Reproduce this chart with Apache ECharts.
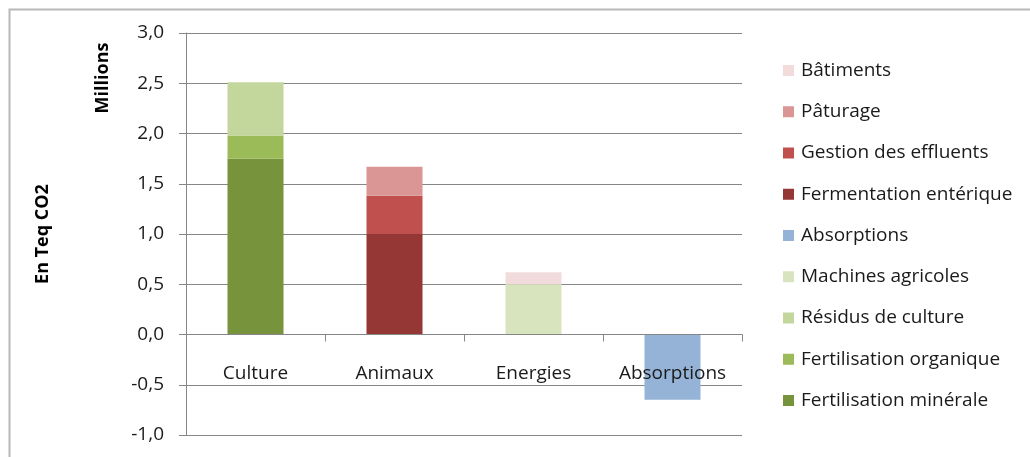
<!DOCTYPE html>
<html>
<head>
<meta charset="utf-8">
<script src="https://cdn.jsdelivr.net/npm/echarts@6/dist/echarts.min.js"></script>
<style>
html,body{margin:0;padding:0;background:#fff;}
#c{width:1030px;height:457px;}
</style>
</head>
<body>
<div id="c"></div>
<script>
const categories = ['Culture', 'Animaux', 'Energies', 'Absorptions'];
const fertilisationMinerale = [1.75, null, null, null];
const fertilisationOrganique = [0.23, null, null, null];
const residusCulture = [0.53, null, null, null];
const machinesAgricoles = [null, null, 0.50, null];
const absorptions = [null, null, null, -0.65];
const fermentationEnterique = [null, 1.00, null, null];
const gestionEffluents = [null, 0.38, null, null];
const paturage = [null, 0.29, null, null];
const batiments = [null, null, 0.12, null];
const yTicks = [-1, 3, 0.5]; // min, max, interval

const seriesDefs = [
  ['Fertilisation minérale', fertilisationMinerale, '#77933C'],
  ['Fertilisation organique', fertilisationOrganique, '#9BBB59'],
  ['Résidus de culture', residusCulture, '#C3D69B'],
  ['Machines agricoles', machinesAgricoles, '#D7E4BD'],
  ['Absorptions', absorptions, '#95B3D7'],
  ['Fermentation entérique', fermentationEnterique, '#953735'],
  ['Gestion des effluents', gestionEffluents, '#C0504D'],
  ['Pâturage', paturage, '#D99694'],
  ['Bâtiments', batiments, '#F2DCDB']
];

const FONT = '"Open Sans", Lato, sans-serif';
const FS = 19;
const GRID_TOP = 33, GRID_BOTTOM = 22, H = 457;
const plotH = H - GRID_TOP - GRID_BOTTOM;
// shift x axis (with its labels) up to the zero line
const zeroOffset = -plotH * (0 - yTicks[0]) / (yTicks[1] - yTicks[0]);

const chart = echarts.init(document.getElementById('c'), null, {renderer: 'canvas'});
chart.setOption({
  animation: false,
  backgroundColor: '#fff',
  grid: {left: 186, right: 288, top: GRID_TOP, bottom: GRID_BOTTOM, containLabel: false, outerBoundsMode: 'none'},
  legend: {
    orient: 'vertical',
    left: 778,
    top: 56,
    itemWidth: 11,
    itemHeight: 11,
    itemGap: 22.25,
    icon: 'rect',
    data: seriesDefs.map(s => s[0]).slice().reverse(),
    textStyle: {fontFamily: FONT, fontSize: FS, color: '#1a1a1a', padding: [0, 0, 0, 2]}
  },
  xAxis: {
    type: 'category',
    data: categories,
    offset: zeroOffset,
    z: 5,
    axisLine: {onZero: false, lineStyle: {color: '#868686', width: 1}},
    axisTick: {show: true, interval: 0, length: 7, lineStyle: {color: '#868686'}},
    axisLabel: {fontFamily: FONT, fontSize: FS, color: '#1a1a1a', margin: 30, interval: 0, hideOverlap: false},
    splitLine: {show: false}
  },
  yAxis: {
    type: 'value',
    min: yTicks[0], max: yTicks[1], interval: yTicks[2],
    axisLine: {show: true, lineStyle: {color: '#868686', width: 1}},
    axisTick: {show: true, length: 7, lineStyle: {color: '#868686'}},
    axisLabel: {fontFamily: FONT, fontSize: FS, color: '#1a1a1a', margin: 22,
      formatter: v => v.toFixed(1).replace('.', ',')},
    splitLine: {show: true, lineStyle: {color: '#868686', width: 1}}
  },
  graphic: [
    {type: 'rect', left: 7, top: 7, shape: {width: 1060, height: 480}, style: {fill: 'none', stroke: '#B8B8B8', lineWidth: 2}, silent: true},
    {type: 'text', x: 103, y: 78, rotation: Math.PI / 2, style: {text: 'Millions', font: 'bold 18px ' + FONT, fill: '#000', align: 'center', verticalAlign: 'middle'}},
    {type: 'text', x: 43, y: 234, rotation: Math.PI / 2, style: {text: 'En Teq CO2', font: 'bold 18px ' + FONT, fill: '#000', align: 'center', verticalAlign: 'middle'}}
  ],
  series: seriesDefs.map(([name, data, color]) => ({
    name, type: 'bar', stack: 'total', data, barWidth: 56,
    itemStyle: {color}
  }))
});
</script>
</body>
</html>
